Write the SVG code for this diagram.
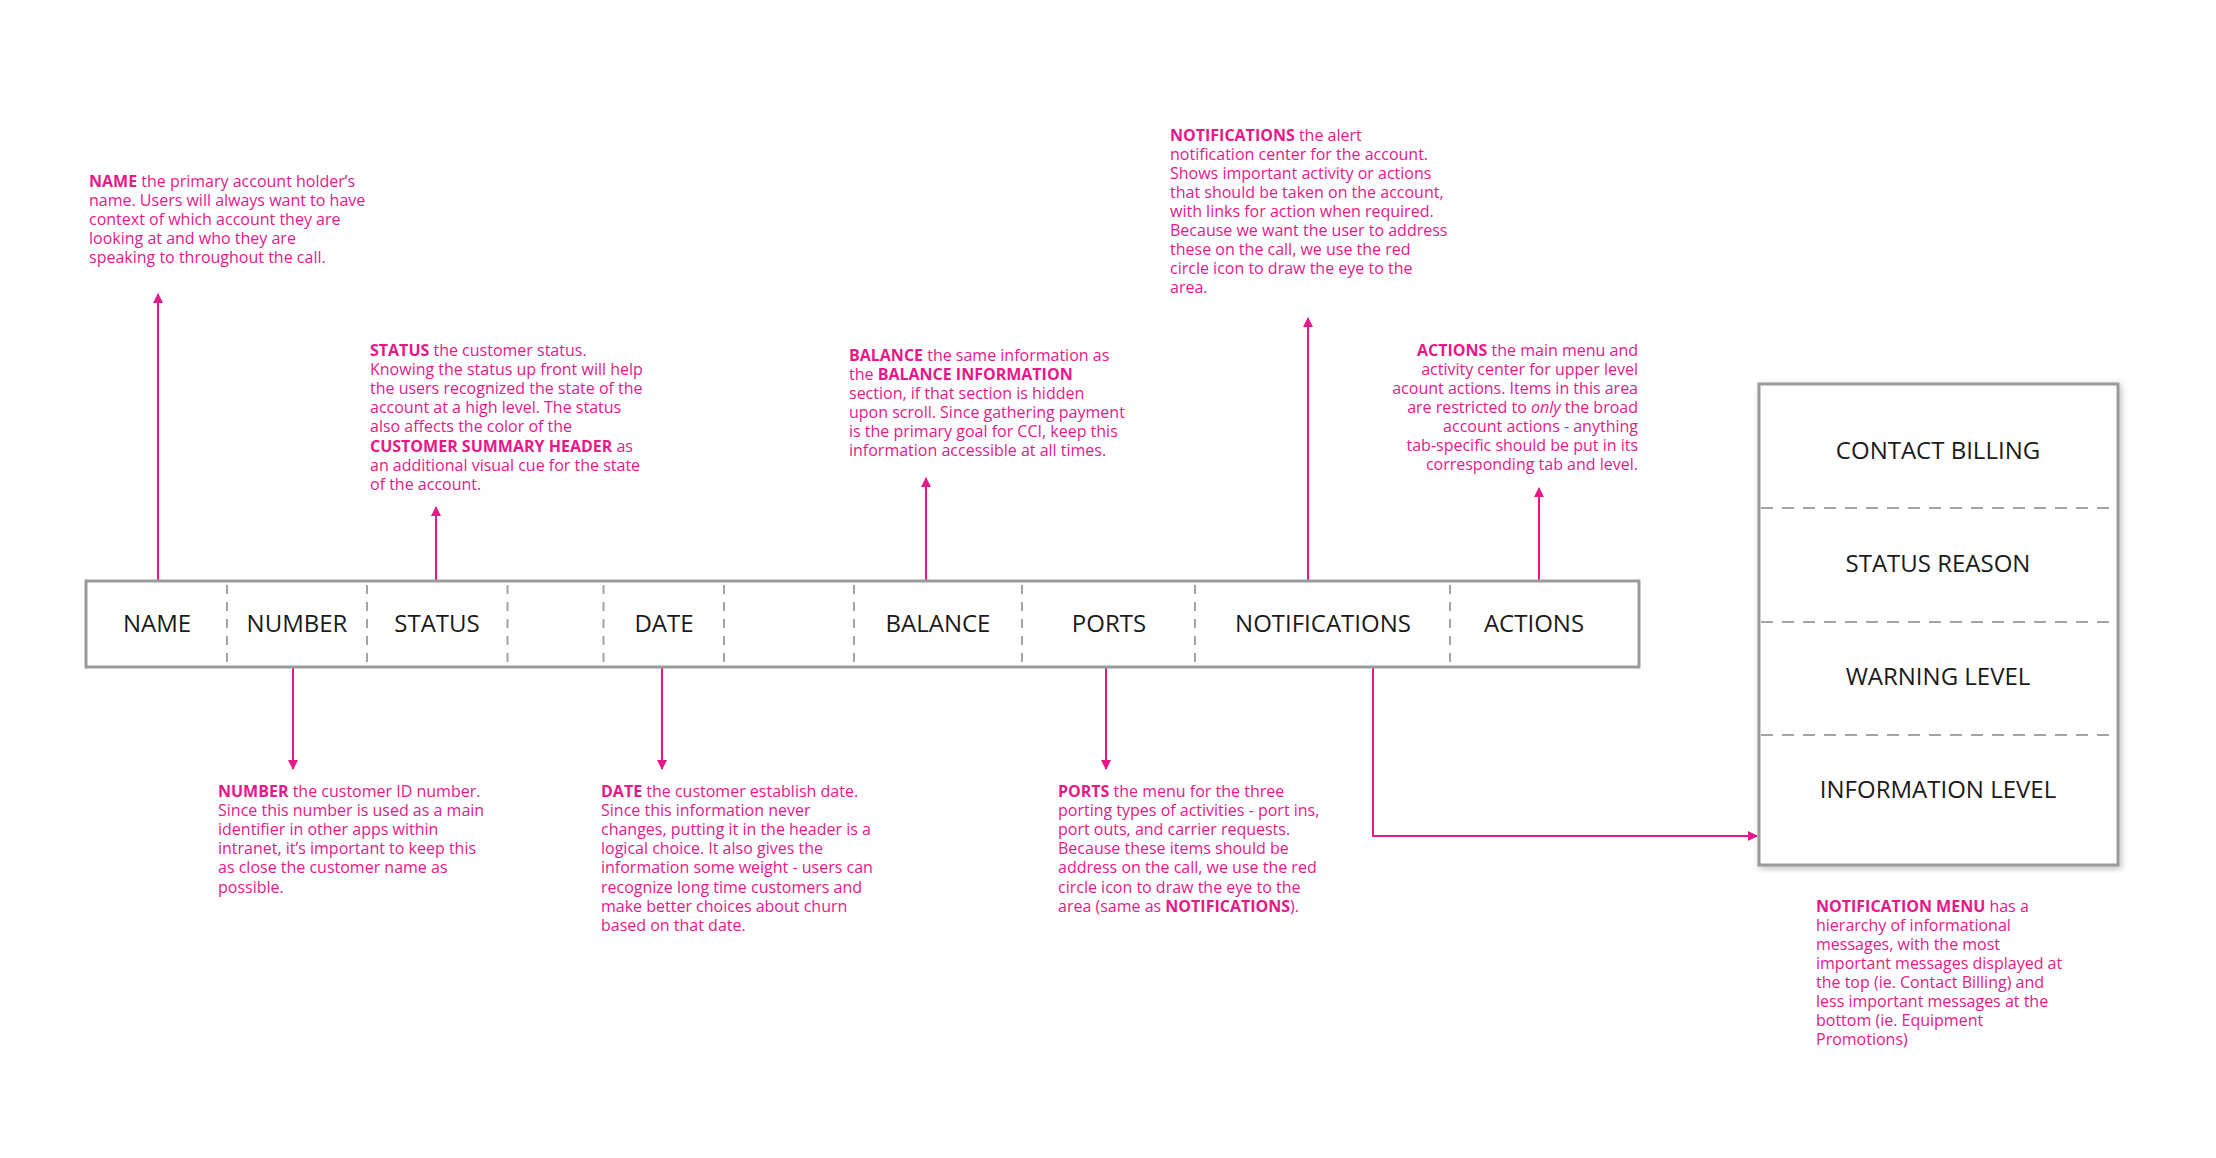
<svg xmlns="http://www.w3.org/2000/svg" width="2216" height="1158" viewBox="0 0 2216 1158">
  <style>
    .note { font-family: "Open Sans", "Liberation Sans", sans-serif; font-size: 16px; fill: #e8178a; }
    .note .b { font-weight: 700; }
    .note .i { font-style: italic; }
    .end { text-anchor: end; }
    .label { font-family: "Open Sans", "Liberation Sans", sans-serif; font-size: 24px; fill: #1a1a1a; text-anchor: middle; }
    .frame { fill: #fff; stroke: #999a9c; stroke-width: 3; }
    .div { stroke: #a3a3a3; stroke-width: 2; stroke-dasharray: 9 8; fill: none; }
    .hdiv { stroke: #a3a3a3; stroke-width: 2; stroke-dasharray: 12 9; fill: none; }
    .wire { stroke: #e8178a; stroke-width: 2; fill: none; }
  </style>
  <defs>
    <marker id="arrow" viewBox="0 0 10 10" refX="9" refY="5" markerWidth="10" markerHeight="10" markerUnits="userSpaceOnUse" orient="auto">
      <path d="M0,0 L10,5 L0,10 Z" fill="#e8178a"/>
    </marker>
    <filter id="shadow" x="-10%" y="-10%" width="125%" height="125%">
      <feDropShadow dx="2" dy="2" stdDeviation="3" flood-color="#000" flood-opacity="0.25"/>
    </filter>
  </defs>

  <rect width="2216" height="1158" fill="#fff"/>

  <!-- connectors -->
  <g id="connectors">
    <line class="wire" x1="158" y1="581" x2="158" y2="294" marker-end="url(#arrow)"/>
    <line class="wire" x1="436" y1="581" x2="436" y2="507" marker-end="url(#arrow)"/>
    <line class="wire" x1="926" y1="581" x2="926" y2="478" marker-end="url(#arrow)"/>
    <line class="wire" x1="1308" y1="581" x2="1308" y2="318" marker-end="url(#arrow)"/>
    <line class="wire" x1="1539" y1="581" x2="1539" y2="488" marker-end="url(#arrow)"/>
    <line class="wire" x1="293" y1="667" x2="293" y2="769" marker-end="url(#arrow)"/>
    <line class="wire" x1="662" y1="667" x2="662" y2="769" marker-end="url(#arrow)"/>
    <line class="wire" x1="1106" y1="667" x2="1106" y2="769" marker-end="url(#arrow)"/>
    <polyline class="wire" points="1373,667 1373,836 1757,836" marker-end="url(#arrow)"/>
  </g>

  <!-- header bar -->
  <g id="header-bar">
    <rect class="frame" x="86" y="581" width="1553" height="86"/>
    <line class="div" x1="227" y1="585" x2="227" y2="664"/>
    <line class="div" x1="367" y1="585" x2="367" y2="664"/>
    <line class="div" x1="507.5" y1="585" x2="507.5" y2="664"/>
    <line class="div" x1="603.5" y1="585" x2="603.5" y2="664"/>
    <line class="div" x1="724" y1="585" x2="724" y2="664"/>
    <line class="div" x1="854" y1="585" x2="854" y2="664"/>
    <line class="div" x1="1022" y1="585" x2="1022" y2="664"/>
    <line class="div" x1="1195" y1="585" x2="1195" y2="664"/>
    <line class="div" x1="1450" y1="585" x2="1450" y2="664"/>
    <text class="label" x="157" y="632">NAME</text>
    <text class="label" x="297" y="632">NUMBER</text>
    <text class="label" x="437" y="632">STATUS</text>
    <text class="label" x="664" y="632">DATE</text>
    <text class="label" x="938" y="632">BALANCE</text>
    <text class="label" x="1109" y="632">PORTS</text>
    <text class="label" x="1323" y="632">NOTIFICATIONS</text>
    <text class="label" x="1534" y="632">ACTIONS</text>
  </g>

  <!-- notification menu -->
  <g id="notification-menu">
    <rect class="frame" x="1759" y="384" width="359" height="481" filter="url(#shadow)"/>
    <line class="hdiv" x1="1761" y1="508" x2="2114" y2="508"/>
    <line class="hdiv" x1="1761" y1="622" x2="2114" y2="622"/>
    <line class="hdiv" x1="1761" y1="735" x2="2114" y2="735"/>
    <text class="label" x="1938" y="459">CONTACT BILLING</text>
    <text class="label" x="1938" y="572">STATUS REASON</text>
    <text class="label" x="1938" y="685">WARNING LEVEL</text>
    <text class="label" x="1938" y="798">INFORMATION LEVEL</text>
  </g>

  <!-- annotations -->
  <g id="note-name" class="note">
    <text x="89" y="186.5"><tspan class="b">NAME</tspan> the primary account holder’s</text>
    <text x="89" y="205.6">name. Users will always want to have</text>
    <text x="89" y="224.7">context of which account they are</text>
    <text x="89" y="243.8">looking at and who they are</text>
    <text x="89" y="262.9">speaking to throughout the call.</text>
  </g>

  <g id="note-status" class="note">
    <text x="370" y="356"><tspan class="b">STATUS</tspan> the customer status.</text>
    <text x="370" y="375.1">Knowing the status up front will help</text>
    <text x="370" y="394.2">the users recognized the state of the</text>
    <text x="370" y="413.3">account at a high level. The status</text>
    <text x="370" y="432.4">also affects the color of the</text>
    <text x="370" y="451.5"><tspan class="b">CUSTOMER SUMMARY HEADER</tspan> as</text>
    <text x="370" y="470.6">an additional visual cue for the state</text>
    <text x="370" y="489.7">of the account.</text>
  </g>

  <g id="note-balance" class="note">
    <text x="849" y="360.5"><tspan class="b">BALANCE</tspan> the same information as</text>
    <text x="849" y="379.6">the <tspan class="b">BALANCE INFORMATION</tspan></text>
    <text x="849" y="398.7">section, if that section is hidden</text>
    <text x="849" y="417.8">upon scroll. Since gathering payment</text>
    <text x="849" y="436.9">is the primary goal for CCI, keep this</text>
    <text x="849" y="456">information accessible at all times.</text>
  </g>

  <g id="note-notifications" class="note">
    <text x="1170" y="140.5"><tspan class="b">NOTIFICATIONS</tspan> the alert</text>
    <text x="1170" y="159.6">notification center for the account.</text>
    <text x="1170" y="178.7">Shows important activity or actions</text>
    <text x="1170" y="197.8">that should be taken on the account,</text>
    <text x="1170" y="216.9">with links for action when required.</text>
    <text x="1170" y="236">Because we want the user to address</text>
    <text x="1170" y="255.1">these on the call, we use the red</text>
    <text x="1170" y="274.2">circle icon to draw the eye to the</text>
    <text x="1170" y="293.3">area.</text>
  </g>

  <g id="note-actions" class="note end">
    <text x="1638" y="355.5"><tspan class="b">ACTIONS</tspan> the main menu and</text>
    <text x="1638" y="374.6">activity center for upper level</text>
    <text x="1638" y="393.7">acount actions. Items in this area</text>
    <text x="1638" y="412.8">are restricted to <tspan class="i">only</tspan> the broad</text>
    <text x="1638" y="431.9">account actions - anything</text>
    <text x="1638" y="451">tab-specific should be put in its</text>
    <text x="1638" y="470.1">corresponding tab and level.</text>
  </g>

  <g id="note-number" class="note">
    <text x="218" y="797"><tspan class="b">NUMBER</tspan> the customer ID number.</text>
    <text x="218" y="816.1">Since this number is used as a main</text>
    <text x="218" y="835.2">identifier in other apps within</text>
    <text x="218" y="854.3">intranet, it’s important to keep this</text>
    <text x="218" y="873.4">as close the customer name as</text>
    <text x="218" y="892.5">possible.</text>
  </g>

  <g id="note-date" class="note">
    <text x="601" y="797"><tspan class="b">DATE</tspan> the customer establish date.</text>
    <text x="601" y="816.1">Since this information never</text>
    <text x="601" y="835.2">changes, putting it in the header is a</text>
    <text x="601" y="854.3">logical choice. It also gives the</text>
    <text x="601" y="873.4">information some weight - users can</text>
    <text x="601" y="892.5">recognize long time customers and</text>
    <text x="601" y="911.6">make better choices about churn</text>
    <text x="601" y="930.7">based on that date.</text>
  </g>

  <g id="note-ports" class="note">
    <text x="1058" y="797"><tspan class="b">PORTS</tspan> the menu for the three</text>
    <text x="1058" y="816.1">porting types of activities - port ins,</text>
    <text x="1058" y="835.2">port outs, and carrier requests.</text>
    <text x="1058" y="854.3">Because these items should be</text>
    <text x="1058" y="873.4">address on the call, we use the red</text>
    <text x="1058" y="892.5">circle icon to draw the eye to the</text>
    <text x="1058" y="911.6">area (same as <tspan class="b">NOTIFICATIONS</tspan>).</text>
  </g>

  <g id="note-notification-menu" class="note">
    <text x="1816" y="911.5"><tspan class="b">NOTIFICATION MENU</tspan> has a</text>
    <text x="1816" y="930.6">hierarchy of informational</text>
    <text x="1816" y="949.7">messages, with the most</text>
    <text x="1816" y="968.8">important messages displayed at</text>
    <text x="1816" y="987.9">the top (ie. Contact Billing) and</text>
    <text x="1816" y="1007">less important messages at the</text>
    <text x="1816" y="1026.1">bottom (ie. Equipment</text>
    <text x="1816" y="1045.2">Promotions)</text>
  </g>
</svg>
